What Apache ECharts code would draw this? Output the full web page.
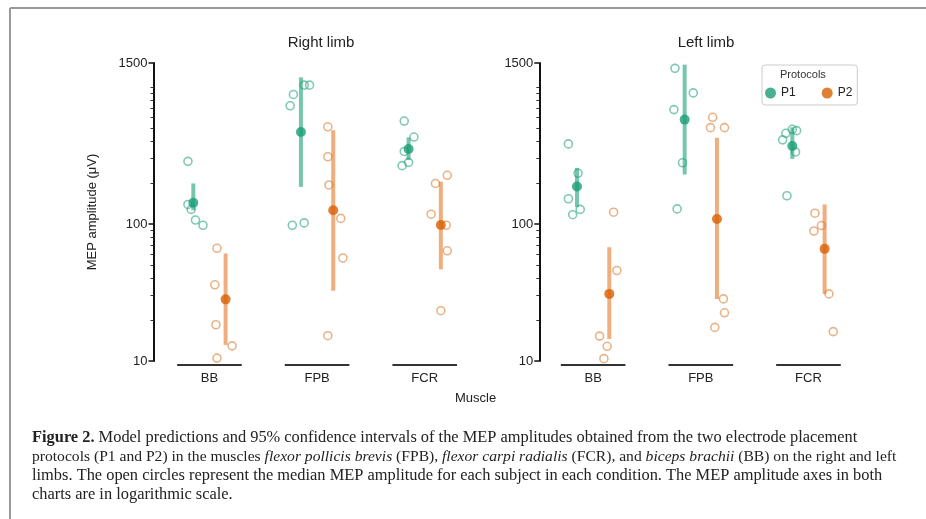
<!DOCTYPE html>
<html>
<head>
<meta charset="utf-8">
<script src="https://cdn.jsdelivr.net/npm/echarts@6/dist/echarts.min.js"></script>
<style>
  html, body { margin: 0; padding: 0; background: #fff; }
  #chart { width: 926px; height: 519px; }
</style>
</head>
<body>
<div id="chart"></div>
<script>
// muscles on the x axis
var muscles = ['BB', 'FPB', 'FCR'];
var yLabels = [10, 100, 1500];
var yMinor = [20, 30, 40, 50, 60, 70, 80, 90, 200, 300, 400, 500, 600, 700, 800, 900, 1000];

// model predictions (µV) and 95% CI, order BB, FPB, FCR
var rightP1Mean = [143, 470, 353];
var rightP1Low = [126, 187, 293];
var rightP1High = [198, 1178, 429];
var rightP2Mean = [28.2, 126, 98.4];
var rightP2Low = [13.1, 32.6, 46.7];
var rightP2High = [61, 485, 204];

var leftP1Mean = [188, 579, 372];
var leftP1Low = [133, 230, 299];
var leftP1High = [257, 1459, 509];
var leftP2Mean = [30.9, 109, 65.9];
var leftP2Low = [14.5, 28.4, 30.9];
var leftP2High = [67.7, 426, 139];

// subject medians (open circles) and their horizontal jitter
var rightP1Subj = [[287, 139, 128, 107, 98], [731, 884, 1034, 1034, 98, 102], [565, 432, 339, 282, 267]];
var rightP1Jit = [[-0.05, -0.05, -0.02, 0.02, 0.09], [-0.10, -0.07, 0.03, 0.08, -0.08, 0.03], [-0.04, 0.05, -0.04, 0.00, -0.06]];
var rightP2Subj = [[66.5, 36, 18.4, 10.5, 12.9], [513, 310, 193, 110, 56.5, 15.3], [198, 227, 118, 98, 63.8, 23.3]];
var rightP2Jit = [[-0.08, -0.10, -0.09, -0.08, 0.06], [-0.05, -0.05, -0.04, 0.07, 0.09, -0.05], [-0.05, 0.06, -0.09, 0.05, 0.06, 0.00]];

var leftP1Subj = [[385, 235, 153, 128, 117], [1371, 907, 685, 280, 129], [460, 412, 492, 481, 336, 161]];
var leftP1Jit = [[-0.08, 0.01, -0.08, 0.03, -0.04], [-0.09, 0.08, -0.10, -0.02, -0.07], [-0.06, -0.09, 0.00, 0.04, 0.03, -0.05]];
var leftP2Subj = [[122, 45.8, 15.2, 12.8, 10.4], [602, 506, 506, 28.4, 22.5, 17.6], [120, 97.5, 89, 30.9, 16.4]];
var leftP2Jit = [[0.04, 0.07, -0.09, -0.02, -0.05], [-0.04, -0.06, 0.07, 0.06, 0.07, -0.02], [-0.09, -0.03, -0.10, 0.04, 0.08]];

var dodge = 0.15;
var colP1 = '#1b9e77', colP2 = '#d95f02';
var ciP1 = 'rgba(27,158,119,0.6)', ciP2 = 'rgba(230,120,40,0.6)';
var ringP1 = 'rgba(27,158,119,0.7)', ringP2 = 'rgba(217,120,40,0.7)';

var chart = echarts.init(document.getElementById('chart'));

function ciRender(params, api) {
  var x = api.value(0);
  var top = api.coord([x, api.value(2)]);
  var bot = api.coord([x, api.value(1)]);
  return {
    type: 'line',
    shape: {x1: top[0], y1: top[1], x2: bot[0], y2: bot[1]},
    style: {stroke: api.visual('color'), lineWidth: 4}
  };
}

function baseRender(params, api) {
  var i = api.value(0);
  var a = api.coord([i - 0.3, 10]);
  var b = api.coord([i + 0.3, 10]);
  return {
    type: 'line',
    shape: {x1: a[0], y1: a[1] + 4, x2: b[0], y2: b[1] + 4},
    style: {stroke: '#333', lineWidth: 2}
  };
}

function panelSeries(xi, yi, p1, p2) {
  // p = [mean, low, high, subj, jit]
  var out = [];
  out.push({
    type: 'custom', xAxisIndex: xi, yAxisIndex: yi, clip: false, silent: true,
    renderItem: baseRender, data: muscles.map(function (m, i) { return [i]; })
  });
  [[p1, colP1, ciP1, ringP1, 'P1', -1], [p2, colP2, ciP2, ringP2, 'P2', 1]].forEach(function (g) {
    var d = g[0], off = g[5] * dodge;
    out.push({
      type: 'custom', xAxisIndex: xi, yAxisIndex: yi, silent: true,
      itemStyle: {color: g[2]}, encode: {x: 0, y: [1, 2]},
      renderItem: ciRender,
      data: muscles.map(function (m, i) { return [i + off, d[1][i], d[2][i]]; })
    });
    var subj = [];
    d[3].forEach(function (vals, i) {
      vals.forEach(function (v, j) { subj.push([i + off + d[4][i][j], v]); });
    });
    out.push({
      type: 'scatter', name: g[4] + ' subjects', xAxisIndex: xi, yAxisIndex: yi,
      symbolSize: 8, z: 3,
      itemStyle: {color: 'rgba(255,255,255,0)', borderColor: g[3], borderWidth: 1.6},
      data: subj
    });
    out.push({
      type: 'scatter', name: g[4], xAxisIndex: xi, yAxisIndex: yi,
      symbolSize: 10, z: 4,
      itemStyle: {color: g[1]},
      data: muscles.map(function (m, i) { return [i + off, d[0][i]]; })
    });
  });
  return out;
}

function xAx(grid, min) {
  return {
    type: 'value', gridIndex: grid, min: min, max: 2.5,
    axisLine: {show: false}, axisTick: {show: false}, splitLine: {show: false},
    axisLabel: {
      customValues: [0, 1, 2], margin: 11, fontSize: 13, color: '#222',
      fontFamily: 'Liberation Sans',
      formatter: function (v) { return muscles[Math.round(v)]; }
    }
  };
}

function yAx(grid, withName) {
  return {
    type: 'log', logBase: 10, gridIndex: grid, min: 10, max: 1500, position: 'left',
    name: withName ? 'MEP amplitude (μV)' : '', nameLocation: 'middle', nameGap: 55,
    nameTextStyle: {fontSize: 13, color: '#222', fontFamily: 'Liberation Sans'},
    axisLine: {show: true, onZero: false, lineStyle: {color: '#111', width: 2}},
    axisTick: {show: true, length: 5, customValues: yLabels, lineStyle: {color: '#111', width: 1.5}},
    axisLabel: {customValues: yLabels, margin: 6, fontSize: 13, color: '#222', fontFamily: 'Liberation Sans',
      formatter: function (v) { return String(Math.round(v)); }},
    splitLine: {show: false}
  };
}

function yMinorAx(grid) {
  return {
    type: 'log', logBase: 10, gridIndex: grid, min: 10, max: 1500, position: 'left',
    axisLine: {show: false, onZero: false},
    axisTick: {show: true, length: 3, customValues: yMinor, lineStyle: {color: '#333', width: 1}},
    axisLabel: {show: false}, splitLine: {show: false}
  };
}

var series = [].concat(
  panelSeries(0, 0,
    [rightP1Mean, rightP1Low, rightP1High, rightP1Subj, rightP1Jit],
    [rightP2Mean, rightP2Low, rightP2High, rightP2Subj, rightP2Jit]),
  panelSeries(1, 2,
    [leftP1Mean, leftP1Low, leftP1High, leftP1Subj, leftP1Jit],
    [leftP2Mean, leftP2Low, leftP2High, leftP2Subj, leftP2Jit])
);

var capFont = 'Liberation Serif';
function capLine(txt, y, size) {
  return {
    type: 'text', left: 32, top: y,
    style: {
      text: txt, fill: '#222', font: size + 'px "' + capFont + '"',
      rich: {
        b: {fontWeight: 'bold', fontSize: size, fontFamily: capFont},
        i: {fontStyle: 'italic', fontSize: size, fontFamily: capFont}
      }
    }
  };
}

var option = {
  backgroundColor: '#fff',
  animation: false,
  title: [
    {text: 'Right limb', left: 316, top: 30, textAlign: 'center',
     textStyle: {fontSize: 15, fontWeight: 'normal', color: '#222', fontFamily: 'Liberation Sans'}},
    {text: 'Left limb', left: 701, top: 30, textAlign: 'center',
     textStyle: {fontSize: 15, fontWeight: 'normal', color: '#222', fontFamily: 'Liberation Sans'}}
  ],
  legend: {
    data: ['P1', 'P2'], left: 762, top: 65, orient: 'horizontal',
    padding: [22, 5, 6, 3], itemGap: 26, itemWidth: 11, itemHeight: 11,
    icon: 'circle', borderColor: '#ccc', borderWidth: 1, borderRadius: 3,
    textStyle: {fontSize: 12, color: '#222', fontFamily: 'Liberation Sans'}
  },
  grid: [
    {left: 153.5, top: 63, width: 325, height: 298},
    {left: 539.3, top: 63, width: 323, height: 298}
  ],
  xAxis: [xAx(0, -0.52), xAx(1, -0.5)],
  yAxis: [yAx(0, true), yMinorAx(0), yAx(1, false), yMinorAx(1)],
  graphic: [
    {type: 'line', shape: {x1: 10, y1: 8, x2: 926, y2: 8}, style: {stroke: '#999', lineWidth: 2}},
    {type: 'line', shape: {x1: 10, y1: 8, x2: 10, y2: 519}, style: {stroke: '#999', lineWidth: 2}},
    {type: 'text', left: 780, top: 69,
     style: {text: 'Protocols', fill: '#333', font: '11px "Liberation Sans"'}},
    {type: 'text', left: 455, top: 392,
     style: {text: 'Muscle', fill: '#222', font: '13px "Liberation Sans"'}},
    capLine('{b|Figure 2.} Model predictions and 95% confidence intervals of the MEP amplitudes obtained from the two electrode placement', 430, 16.4),
    capLine('protocols (P1 and P2) in the muscles {i|flexor pollicis brevis} (FPB), {i|flexor carpi radialis} (FCR), and {i|biceps brachii} (BB) on the right and left', 449, 15.6),
    capLine('limbs. The open circles represent the median MEP amplitude for each subject in each condition. The MEP amplitude axes in both', 468, 16.4),
    capLine('charts are in logarithmic scale.', 487, 16.4)
  ],
  series: series
};
chart.setOption(option);
</script>
</body>
</html>
